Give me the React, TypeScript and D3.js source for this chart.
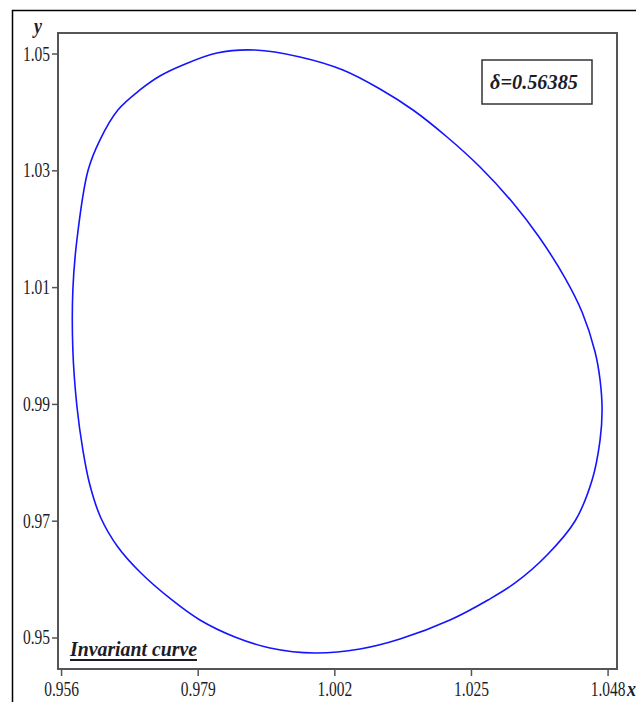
import React from 'react';
import * as d3 from 'd3';

// curve points, clockwise from the top
const curveX = [
    0.98855, 0.99613, 1.00337, 1.0096, 1.01516, 1.02089, 1.02644, 1.032, 1.03638, 1.04076,
    1.04362, 1.04581, 1.04665, 1.04699, 1.04665, 1.04531, 1.04244, 1.03773, 1.03234, 1.02779,
    1.02139, 1.01297, 1.00624, 0.99866, 0.99108, 0.98518, 0.97929, 0.97458, 0.96919, 0.96548,
    0.96262, 0.96077, 0.95959, 0.95858, 0.9579, 0.9579, 0.95858, 0.96043, 0.96245, 0.96548,
    0.96919, 0.97255, 0.97643, 0.98215
];
const curveY = [
    1.05068, 1.04949, 1.04726, 1.04401, 1.04041, 1.03579, 1.03065, 1.02449, 1.01866, 1.01164,
    1.00582, 0.99897, 0.99418, 0.98904, 0.9839, 0.97705, 0.97003, 0.96421, 0.95942, 0.95651,
    0.95308, 0.94983, 0.94812, 0.94743, 0.94829, 0.95017, 0.95308, 0.95651, 0.9613, 0.96558,
    0.97055, 0.9762, 0.98219, 0.98973, 0.99932, 1.00959, 1.01815, 1.02997, 1.03527, 1.04041,
    1.04384, 1.04623, 1.04812, 1.05017
];

const xTicks = [0.956, 0.979, 1.002, 1.025, 1.048];
const yTicks = [0.95, 0.97, 0.99, 1.01, 1.03, 1.05];
const deltaLabel = 'δ=0.56385';
const curveLabel = 'Invariant curve';

const W = 636;
const H = 702;
const frame = { left: 58, top: 33, right: 617, bottom: 669 };
const serif = '"Liberation Serif", "Times New Roman", serif';
const axisColor = '#555';
const textColor = '#1c1c28';

export default function App() {
    const x = d3.scaleLinear().domain([0.9554, 1.0495]).range([frame.left, frame.right]);
    const y = d3.scaleLinear().domain([0.94469, 1.0536]).range([frame.bottom, frame.top]);

    const pts: [number, number][] = curveX.map((v, i) => [v, curveY[i]]);
    const line = d3.line<[number, number]>()
        .curve(d3.curveCatmullRomClosed)
        .x((d) => x(d[0]))
        .y((d) => y(d[1]));

    return (
        <svg width={W} height={H} style={{ position: 'absolute', left: 0, top: 0, background: '#fff' }}>
            <rect x={0} y={0} width={W} height={H} fill="#fff" />
            {/* outer border, runs off the picture */}
            <rect x={12.5} y={10.5} width={W + 20} height={H + 20} fill="none" stroke="#000" strokeWidth={1.5} />

            <path d={line(pts) ?? ''} fill="none" stroke="#1414ff" strokeWidth={1.6} />

            <rect
                x={frame.left}
                y={frame.top}
                width={frame.right - frame.left}
                height={frame.bottom - frame.top}
                fill="none"
                stroke={axisColor}
                strokeWidth={2}
            />

            {yTicks.map((t) => (
                <g key={'y' + t}>
                    <line x1={frame.left - 6} x2={frame.left} y1={y(t)} y2={y(t)} stroke={axisColor} strokeWidth={1.5} />
                    <text
                        transform={`translate(50, ${y(t) + 6.5}) scale(1, 1.3)`}
                        textAnchor="end"
                        fontFamily={serif}
                        fontSize={15.5}
                        fill={textColor}
                    >
                        {t.toFixed(2)}
                    </text>
                </g>
            ))}

            {xTicks.map((t) => (
                <g key={'x' + t}>
                    <line x1={x(t)} x2={x(t)} y1={frame.bottom} y2={frame.bottom + 7} stroke={axisColor} strokeWidth={1.5} />
                    <text
                        transform={`translate(${x(t)}, 696) scale(1, 1.3)`}
                        textAnchor="middle"
                        fontFamily={serif}
                        fontSize={15.5}
                        fill={textColor}
                    >
                        {t.toFixed(3)}
                    </text>
                </g>
            ))}

            <text
                transform="translate(38, 33) scale(1, 1.2)"
                textAnchor="middle"
                fontFamily={serif}
                fontSize={18}
                fontWeight="bold"
                fontStyle="italic"
                fill={textColor}
            >
                y
            </text>
            <text
                transform="translate(627, 696) scale(1, 1.2)"
                fontFamily={serif}
                fontSize={18}
                fontWeight="bold"
                fontStyle="italic"
                fill={textColor}
            >
                x
            </text>

            {/* delta box */}
            <rect x={482} y={60} width={110} height={44} fill="#fff" stroke="#333" strokeWidth={1.5} />
            <text
                transform="translate(490, 89) scale(1, 1.15)"
                fontFamily={serif}
                fontSize={19}
                fontWeight="bold"
                fontStyle="italic"
                textLength={88}
                lengthAdjust="spacingAndGlyphs"
                fill={textColor}
            >
                {deltaLabel}
            </text>

            {/* curve label */}
            <text
                transform="translate(70, 656) scale(1, 1.15)"
                fontFamily={serif}
                fontSize={19}
                fontWeight="bold"
                fontStyle="italic"
                textLength={127}
                lengthAdjust="spacingAndGlyphs"
                fill={textColor}
            >
                {curveLabel}
            </text>
            <line x1={70} x2={197} y1={660} y2={660} stroke={textColor} strokeWidth={1.8} />
        </svg>
    );
}
